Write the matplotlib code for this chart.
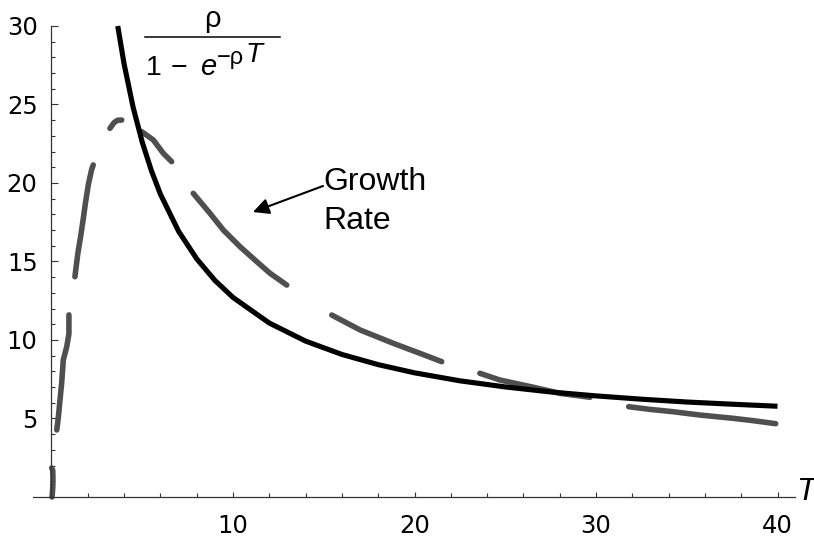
import matplotlib
matplotlib.use("Agg")
import matplotlib.pyplot as plt
from matplotlib.lines import Line2D

# ---- data ----
T_black = [3.65, 4.0, 4.5, 5.0, 5.5, 6.0, 7.0, 8.0, 9.0, 10.0, 12.0, 14.0, 16.0,
           18.0, 20.0, 22.5, 25.0, 27.5, 30.0, 32.5, 35.0, 37.5, 40.0]
rate_black = [30.0, 27.58, 24.81, 22.60, 20.80, 19.29, 16.93, 15.17, 13.80, 12.71,
              11.08, 9.93, 9.08, 8.43, 7.91, 7.40, 7.01, 6.69, 6.44, 6.23, 6.05,
              5.91, 5.78]

seg1_T = [0.03, 0.07, 0.08, 0.07, 0.01]
seg1_v = [0.0, 0.6, 1.2, 1.7, 1.85]
seg2_T = [0.29, 0.38, 0.47, 0.56, 0.65, 0.84, 0.96, 0.96]
seg2_v = [4.27, 5.1, 6.2, 7.25, 8.73, 9.57, 10.4, 11.6]
seg3_T = [1.29, 1.45, 1.62, 1.76, 1.88, 2.03, 2.20, 2.30]
seg3_v = [14.03, 15.5, 16.7, 17.8, 18.8, 19.9, 20.8, 21.15]
seg4_T = [3.22, 3.45, 3.65, 3.87]
seg4_v = [23.48, 23.85, 24.0, 24.01]
seg5_T = [4.97, 5.61, 6.16, 6.62]
seg5_v = [23.27, 22.74, 21.89, 21.36]
seg6_T = [7.81, 8.73, 9.47, 10.39, 11.31, 12.04, 12.96]
seg6_v = [19.34, 18.07, 17.0, 15.94, 14.99, 14.25, 13.5]
seg7_T = [15.44, 17.0, 18.83, 20.30, 21.5]
seg7_v = [11.59, 10.64, 9.79, 9.15, 8.62]
seg8_T = [23.6, 24.71, 26.55, 28.02, 29.67]
seg8_v = [7.88, 7.45, 6.99, 6.60, 6.35]
seg9_T = [31.8, 32.98, 34.26, 35.73, 37.56, 38.67, 39.9]
seg9_v = [5.75, 5.58, 5.43, 5.22, 5.01, 4.86, 4.67]

gray_segments = [(seg1_T, seg1_v), (seg2_T, seg2_v), (seg3_T, seg3_v),
                 (seg4_T, seg4_v), (seg5_T, seg5_v), (seg6_T, seg6_v),
                 (seg7_T, seg7_v), (seg8_T, seg8_v), (seg9_T, seg9_v)]

x_major = [10, 20, 30, 40]
x_minor = [2, 4, 6, 8, 12, 14, 16, 18, 22, 24, 26, 28, 32, 34, 36, 38]
y_major = [5, 10, 15, 20, 25, 30]
y_minor = [1, 2, 3, 4, 6, 7, 8, 9, 11, 12, 13, 14, 16, 17, 18, 19,
           21, 22, 23, 24, 26, 27, 28, 29]

W, H = 814, 537
fig = plt.figure(figsize=(W / 100, H / 100), dpi=100)
ax = fig.add_axes([0, 0, 1, 1])
ax.patch.set_alpha(0)

ax.set_xlim(-2.837, 42.01)
ax.set_ylim(-2.548, 31.656)

gray = "#4f4f4f"
for tt, vv in gray_segments:
    ax.plot(tt, vv, color=gray, lw=4.0, solid_capstyle="round",
            solid_joinstyle="round", zorder=2)
ax.plot(T_black, rate_black, color="black", lw=3.7, solid_capstyle="butt",
        zorder=3)

# axes styled like Mathematica
for s in ["top", "right"]:
    ax.spines[s].set_visible(False)
ax.spines["left"].set_position(("data", 0))
ax.spines["bottom"].set_position(("data", 0))
ax.spines["left"].set_bounds(0, 30)
ax.spines["bottom"].set_bounds(-1.02, 40.96)
for s in ["left", "bottom"]:
    ax.spines[s].set_linewidth(0.9)
    ax.spines[s].set_color("#333333")

ax.set_xticks(x_major)
ax.set_xticks(x_minor, minor=True)
ax.set_yticks(y_major)
ax.set_yticks(y_minor, minor=True)
ax.tick_params(axis="x", which="major", direction="in", length=3.3, width=0.8,
               labelsize=17.5, pad=12, color="#333333")
ax.tick_params(axis="x", which="minor", direction="in", length=3.0, width=0.8,
               color="#333333")
ax.tick_params(axis="y", which="major", direction="in", length=5.3, width=0.8,
               labelsize=17.5, pad=10, color="#333333")
ax.tick_params(axis="y", which="minor", direction="in", length=3.0, width=0.8,
               color="#333333")
for lab in ax.get_xticklabels() + ax.get_yticklabels():
    lab.set_fontfamily("DejaVu Sans")

# axis label T (placed so it stays inside the picture)
ax.text(41.0, -0.19, "T", fontsize=23, fontstyle="italic",
        family="Liberation Sans", ha="left", va="baseline")

# Growth Rate annotation
ax.text(14.96, 19.55, "Growth", fontsize=23, family="Liberation Sans",
        ha="left", va="baseline")
ax.text(14.96, 17.07, "Rate", fontsize=23, family="Liberation Sans",
        ha="left", va="baseline")
ax.annotate("", xy=(11.1, 18.15), xytext=(14.96, 19.81),
            arrowprops=dict(arrowstyle="-|>", lw=1.5, color="black",
                            mutation_scale=24, shrinkA=0, shrinkB=0))

# formula rho / (1 - e^{-rho T}) composed in figure pixels
def fp(x, y):
    return x / W, 1 - y / H

fs = dict(family="Liberation Sans", va="baseline", ha="left", color="black")
fig.text(*fp(212, 27), "ρ", fontsize=21, **{**fs, "ha": "center"})
fig.add_artist(Line2D([145 / W, 280 / W], [1 - 36.7 / H] * 2,
                      transform=fig.transFigure, color="black", lw=1.1))
fig.text(*fp(146, 75), "1", fontsize=20.5, **fs)
fig.text(*fp(171, 75), "\u2212", fontsize=20.5, **fs)
fig.text(*fp(200, 75), "e", fontsize=21, fontstyle="italic", **fs)
fig.text(*fp(217, 64), "\u2212ρ", fontsize=17, **fs)
fig.text(*fp(246, 62), "T", fontsize=20, fontstyle="italic", **fs)

fig.savefig("out.png", dpi=100)
